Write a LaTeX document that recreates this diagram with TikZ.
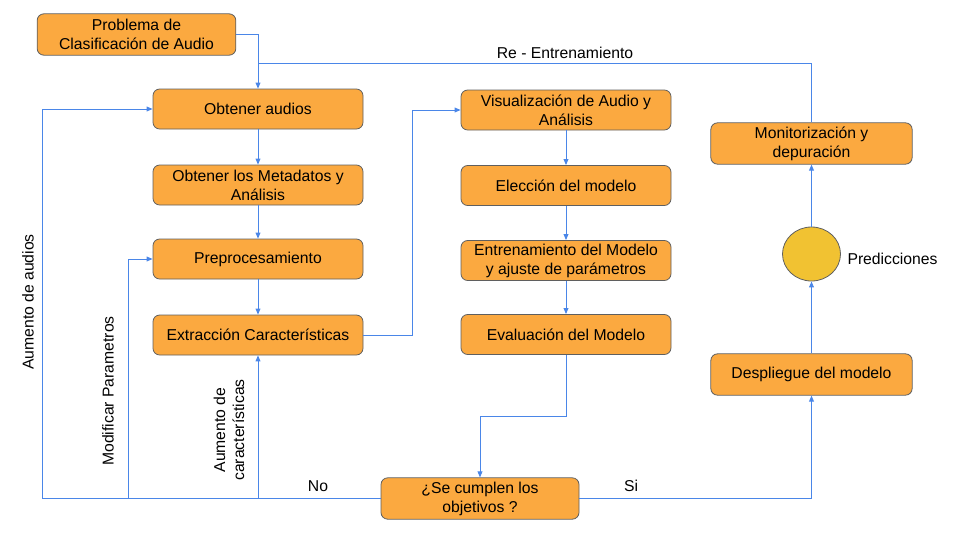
\documentclass[tikz,border=0pt]{standalone}
\usepackage{fontspec}
\setmainfont{Liberation Sans}
\usetikzlibrary{arrows.meta,shapes.geometric}

\definecolor{caja}{RGB}{251,169,64}
\definecolor{borde}{RGB}{95,95,95}
\definecolor{circulo}{RGB}{241,194,50}
\definecolor{flecha}{RGB}{74,134,232}

\tikzset{every picture/.style={line width=0.75pt}}
\tikzset{
  caja/.style={draw=borde, fill=caja, rounded corners=5pt, line width=0.6pt, align=center,
    minimum width=157.5pt, minimum height=30pt, inner sep=1pt,
    font=\fontsize{11.8}{14.2}\selectfont},
  etiqueta/.style={inner sep=0.75pt, align=center, font=\fontsize{11.8}{14.2}\selectfont},
  flujo/.style={draw=flecha, line width=0.75pt, -{Triangle[length=4.5pt,width=3.6pt]}},
  linea/.style={draw=flecha, line width=0.75pt},
}

\begin{document}
\begin{tikzpicture}[x=0.75pt,y=0.75pt,yscale=-1,xscale=1]
\useasboundingbox (0,0) rectangle (960,540);

%Shape: Rectangle [problema]
\node [caja, minimum width=149pt, minimum height=31pt] (prob) at (136.5,34.5) {Problema de\\Clasificación de Audio};
%Shape: Rectangle [columna 1]
\node [caja] (audios) at (258,109) {Obtener audios};
\node [caja] (meta) at (258,185) {Obtener los Metadatos y\\Análisis};
\node [caja] (prep) at (258,259) {Preprocesamiento};
\node [caja] (extr) at (258,335) {Extracción Características};
%Shape: Rectangle [columna 2]
\node [caja] (visual) at (566,110) {Visualización de Audio y\\Análisis};
\node [caja] (elec) at (566,185.5) {Elección del modelo};
\node [caja] (entr) at (566,260.5) {Entrenamiento del Modelo\\y ajuste de parámetros};
\node [caja] (eval) at (566,334.5) {Evaluación del Modelo};
%Shape: Rectangle [decision]
\node [caja, minimum width=148.5pt, minimum height=31pt] (cumple) at (480,498.5) {¿Se cumplen los\\objetivos ?};
%Shape: Rectangle [columna 3]
\node [caja, minimum width=151pt, minimum height=31pt] (monit) at (811.5,143.5) {Monitorización y\\depuración};
\node [caja, minimum width=151pt, minimum height=31pt] (despl) at (811.5,374.5) {Despliegue del modelo};
%Shape: Ellipse [predicciones]
\node [ellipse, draw=borde, fill=circulo, line width=0.6pt, minimum width=43.5pt, minimum height=40.5pt, inner sep=0pt] (pred) at (811.5,254) {};

% Coordinates
\coordinate (reent) at (258,63);
\coordinate (izq) at (42,498.5);
\coordinate (modif) at (128,498.5);

%Straight Lines
\draw [flujo] (prob.east) -| (audios.north);
\draw [linea] (monit.north) |- (reent);
\draw [flujo] (audios) -- (meta);
\draw [flujo] (meta) -- (prep);
\draw [flujo] (prep) -- (extr);
\draw [flujo] (extr.east) -- ++(49,0) |- (visual.west);
\draw [flujo] (visual) -- (elec);
\draw [flujo] (elec) -- (entr);
\draw [flujo] (entr) -- (eval);
\draw [flujo] (eval.south) -- ++(0,62) -| (cumple.north);
\draw [flujo] (cumple.west) -- (izq) |- (audios.west);
\draw [flujo] (modif) |- (prep.west);
\draw [flujo] (cumple.west -| extr.south) -- (extr.south);
\draw [flujo] (cumple.east) -| (despl.south);
\draw [flujo] (despl) -- (pred);
\draw [flujo] (pred) -- (monit);

% Text Node
\node [etiqueta] (treent) at (565,53) {Re - Entrenamiento};
% Text Node
\node [etiqueta, rotate=90] (taudios) at (28,302) {Aumento de audios};
% Text Node
\node [etiqueta, rotate=90] (tmodif) at (108,391) {Modificar Parametros};
% Text Node
\node [etiqueta, rotate=90] (tcarac) at (229,430) {Aumento de\\características};
% Text Node
\node [etiqueta] (tno) at (318,486) {No};
% Text Node
\node [etiqueta] (tsi) at (631,486) {Si};
% Text Node
\node [etiqueta, anchor=west] (tpred) at (846,259) {Predicciones};

\end{tikzpicture}
\end{document}
